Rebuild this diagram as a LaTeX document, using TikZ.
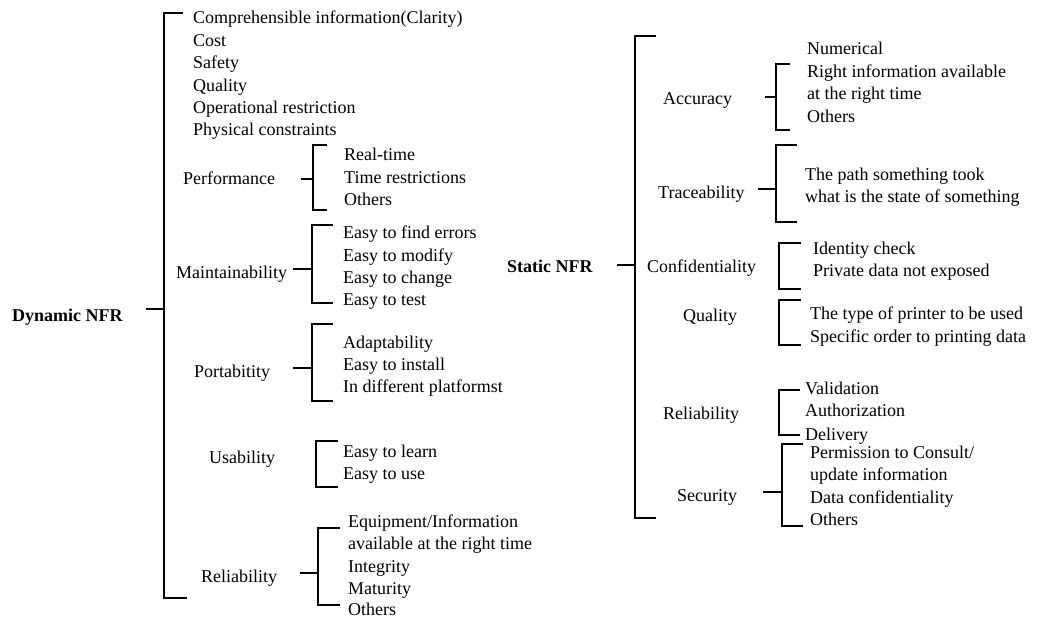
\documentclass[tikz,border=0pt]{standalone}
\usepackage{fontspec}
\setmainfont{Liberation Serif}
\usetikzlibrary{positioning}

\tikzset{
  lbl/.style={anchor=base west, inner sep=0pt, font=\fontsize{18}{22}\selectfont},
  root/.style={lbl, font=\fontsize{18}{22}\selectfont\bfseries},
  brk/.style={line width=2.6pt, line join=miter}
}
% bracket: x, top, bottom, tick end
\newcommand{\brkt}[4]{\draw[brk] (#4,#2) -| (#1,#3) -- (#4,#3);}

\begin{document}
\begin{tikzpicture}[x=1pt, y=-1pt]
    \useasboundingbox (0,0) rectangle (1055,617);

    % Dynamic NFR
    \node[root] (dyn) at (12, 322) {Dynamic NFR};
    \draw[brk] (187,598) -| (164,13) -- (183,13);
    \draw[brk] (146,309) -- (164,309);

    \node[lbl] (clar) at (193, 24) {Comprehensible information(Clarity)};
    \node[lbl] (cost) at (193, 46.4) {Cost};
    \node[lbl] (safe) at (193, 68.8) {Safety};
    \node[lbl] (qual) at (193, 91.2) {Quality};
    \node[lbl] (oper) at (193, 113.6) {Operational restriction};
    \node[lbl] (phys) at (193, 136) {Physical constraints};

    \node[lbl] (perf) at (183, 185) {Performance};
    \brkt{313}{145}{210}{327}
    \draw[brk] (301,179) -- (313,179);
    \node[lbl] (perf1) at (344, 161) {Real-time};
    \node[lbl] (perf2) at (344, 184) {Time restrictions};
    \node[lbl] (perf3) at (344, 206) {Others};

    \node[lbl] (main) at (176, 279) {Maintainability};
    \brkt{312}{225}{303}{333}
    \draw[brk] (293,269) -- (312,269);
    \node[lbl] (main1) at (343, 239) {Easy to find errors};
    \node[lbl] (main2) at (343, 262) {Easy to modify};
    \node[lbl] (main3) at (343, 284) {Easy to change};
    \node[lbl] (main4) at (343, 306) {Easy to test};

    \node[lbl] (port) at (194, 378) {Portabitity};
    \brkt{312}{324}{401}{333}
    \draw[brk] (293,368) -- (312,368);
    \node[lbl] (port1) at (343, 349) {Adaptability};
    \node[lbl] (port2) at (343, 371) {Easy to install};
    \node[lbl] (port3) at (343, 393) {In different platformst};

    \node[lbl] (usab) at (209, 463) {Usability};
    \brkt{316}{441}{487}{338}
    \node[lbl] (usab1) at (343, 457) {Easy to learn};
    \node[lbl] (usab2) at (343, 479) {Easy to use};

    \node[lbl] (reli) at (201, 582) {Reliability};
    \brkt{318}{528}{605}{340}
    \draw[brk] (300,573) -- (318,573);
    \node[lbl] (reli1) at (348, 527) {Equipment/Information};
    \node[lbl] (reli2) at (348, 549) {available at the right time};
    \node[lbl] (reli3) at (348, 572) {Integrity};
    \node[lbl] (reli4) at (348, 594) {Maturity};
    \node[lbl] (reli5) at (348, 615) {Others};

    % Static NFR
    \node[root] (stat) at (507, 273) {Static NFR};
    \brkt{635}{36}{518}{656}
    \draw[brk] (617,265) -- (635,265);

    \node[lbl] (accu) at (663, 105) {Accuracy};
    \brkt{776}{64}{130}{790}
    \draw[brk] (765,97) -- (776,97);
    \node[lbl] (accu1) at (807, 55) {Numerical};
    \node[lbl] (accu2) at (807, 78) {Right information available};
    \node[lbl] (accu3) at (807, 100) {at the right time};
    \node[lbl] (accu4) at (807, 123) {Others};

    \node[lbl] (trac) at (658, 199) {Traceability};
    \brkt{776}{145}{222}{797}
    \draw[brk] (758,189) -- (776,189);
    \node[lbl] (trac1) at (805, 181) {The path something took};
    \node[lbl] (trac2) at (805, 203) {what is the state of something};

    \node[lbl] (conf) at (647, 273) {Confidentiality};
    \brkt{779}{243}{289}{801}
    \node[lbl] (conf1) at (813, 255) {Identity check};
    \node[lbl] (conf2) at (813, 277) {Private data not exposed};

    \node[lbl] (squa) at (683, 322) {Quality};
    \brkt{779}{300}{345}{801}
    \node[lbl] (squa1) at (810, 320) {The type of printer to be used};
    \node[lbl] (squa2) at (810, 343) {Specific order to printing data};

    \node[lbl] (srel) at (663, 420) {Reliability};
    \brkt{779}{390}{435}{800}
    \node[lbl] (srel1) at (805, 395) {Validation};
    \node[lbl] (srel2) at (805, 417) {Authorization};
    \node[lbl] (srel3) at (805, 440) {Delivery};

    \node[lbl] (secu) at (677, 501) {Security};
    \brkt{782}{444}{526}{803}
    \draw[brk] (763,492) -- (782,492);
    \node[lbl] (secu1) at (810, 458) {Permission to Consult/};
    \node[lbl] (secu2) at (810, 480) {update information};
    \node[lbl] (secu3) at (810, 503) {Data confidentiality};
    \node[lbl] (secu4) at (810, 525) {Others};
\end{tikzpicture}
\end{document}
